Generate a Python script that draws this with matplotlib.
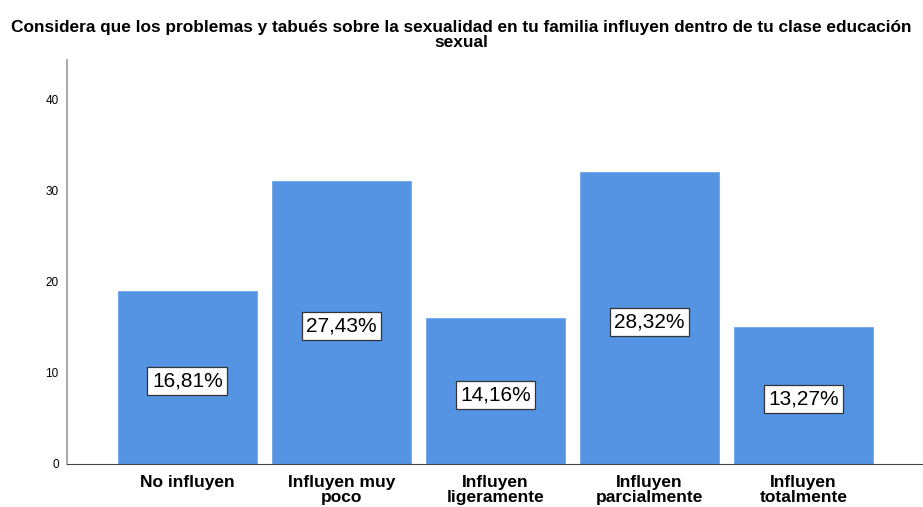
import matplotlib
matplotlib.use("Agg")
import matplotlib.pyplot as plt

categories = ["No influyen", "Influyen muy\npoco", "Influyen\nligeramente", "Influyen\nparcialmente", "Influyen\ntotalmente"]
counts = [19, 31, 16, 32, 15]
pct_labels = ["16,81%", "27,43%", "14,16%", "28,32%", "13,27%"]
yticks = [0, 10, 20, 30, 40]

plt.rcParams['font.family'] = ['Liberation Sans', 'DejaVu Sans']

fig = plt.figure(figsize=(9.23, 5.07), dpi=100)
ax = fig.add_axes([67/923, (507-464)/507, (923-67)/923, (464-60)/507])

x = list(range(len(categories)))
ax.bar(x, counts, width=0.9, color="#5594e3", edgecolor="#6fa6ea", linewidth=0.6)
for xi, c, lab in zip(x, counts, pct_labels):
    ax.text(xi, c/2 - 0.4, lab, ha="center", va="center", fontsize=15,
            bbox=dict(boxstyle="square,pad=0.22", fc="white", ec="#333333", lw=0.9))

ax.set_xlim(-0.782, 4.776)
ax.set_ylim(0, 44.3)
ax.set_yticks(yticks)
ax.set_yticklabels([str(t) for t in yticks], fontsize=8.5)
ax.set_xticks(x)
ax.set_xticklabels(categories, fontsize=12.5, fontweight="bold", linespacing=0.95)
ax.tick_params(axis="x", length=0, pad=8)
ax.tick_params(axis="y", length=0, pad=6)
ax.spines["top"].set_visible(False)
ax.spines["right"].set_visible(False)
ax.spines["left"].set_color("#999999")
ax.spines["left"].set_linewidth(1.2)
ax.spines["bottom"].set_color("#444444")
ax.spines["bottom"].set_linewidth(0.8)

fig.text(0.5, 1-35/507, "Considera que los problemas y tabués sobre la sexualidad en tu familia influyen dentro de tu clase educación\nsexual",
         ha="center", va="center", fontsize=12.4, fontweight="bold", linespacing=1.0)

fig.savefig("out.png", dpi=100)
